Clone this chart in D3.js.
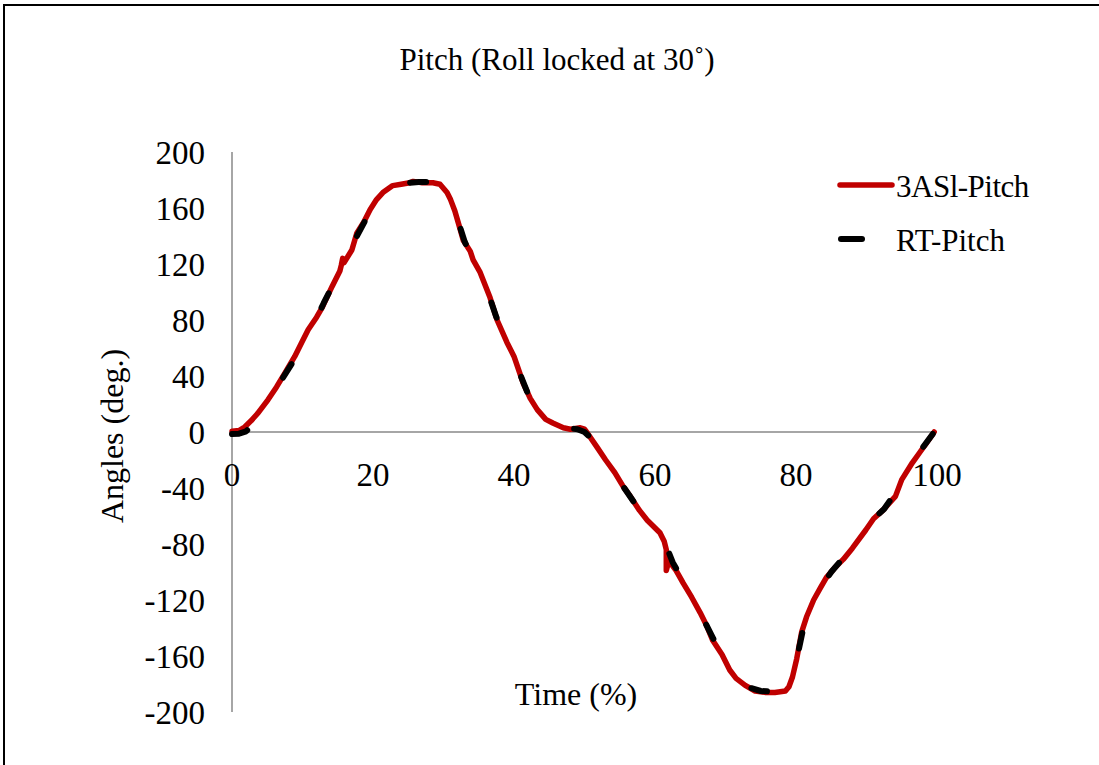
<!DOCTYPE html>
<html><head><meta charset="utf-8">
<script src="https://cdn.jsdelivr.net/npm/d3@7/dist/d3.min.js"></script>
<style>html,body{margin:0;background:#fff;overflow:hidden}svg{display:block}text{font-family:"Liberation Serif","Times New Roman",serif;fill:#000}</style>
</head><body><svg id="c" width="1099" height="765"></svg>
<script>
const title = "Pitch (Roll locked at 30˚)";
const xTitle = "Time (%)";
const yTitle = "Angles (deg.)";
const seriesNames = ["3ASl-Pitch", "RT-Pitch"];
const xTicks = [0, 20, 40, 60, 80, 100];
const yTicks = [200, 160, 120, 80, 40, 0, -40, -80, -120, -160, -200];

const pitch3AS = [[0,0.5],[1,1],[1.8,3.6],[2.7,8],[3.7,13.6],[5.1,23],[6.3,32],[7.5,42],[8.9,54],[9.8,63],[10.8,73],[12,82],[12.8,89],[14.2,104],[15.3,115],[15.5,119],[15.7,124],[15.9,121],[17,130],[17.7,142],[18.7,150],[19.6,159],[20.5,166],[21.4,171],[22.8,176],[24,177],[25.2,178],[25.7,179],[27,178],[28.5,178],[29.5,177],[30.5,171],[31,166],[31.6,158],[32.3,146],[32.8,137],[33.8,129],[34.2,123],[35.2,114],[36.6,96],[37.6,80],[39,64],[40,54],[41.3,35],[42.3,24],[43.3,16],[44.5,9],[45.5,6.4],[47,3],[48,2],[49.4,3],[50,2],[50.4,-0.7],[51.8,-11],[53,-20],[54.3,-29],[55.5,-39],[56.5,-46],[57.8,-56],[58.9,-63],[60.7,-72],[61.3,-78],[61.6,-84],[61.6,-99],[61.8,-95],[62.1,-93],[63,-99],[64,-108],[65.2,-118],[66.4,-129],[67.3,-138],[68.2,-149],[69.5,-159],[70.6,-170],[71.5,-176],[72.8,-181],[74.2,-185],[75.6,-186],[77,-186],[78.5,-185],[79,-182],[79.5,-175],[80.1,-162],[80.8,-143],[81.5,-132],[82.5,-120],[83.5,-111],[84.3,-104],[85.5,-97],[86.7,-91],[88,-83],[89.9,-70],[91,-62],[92.3,-56],[94.1,-46],[95,-34],[96.5,-22],[97.5,-15],[98.5,-8],[99.6,0]];
const pitchRT = [[0,-1.5],[1,-1.2],[2,0.5],[3,5],[4,12],[5.5,25],[7,37],[8.5,49],[10,63],[11.5,76],[13,92],[14.5,107],[16,120],[17.5,138],[19,152],[20.5,165],[22,173],[23.5,177],[25,178],[26.5,178.5],[28,178.5],[29.3,178],[30.5,170],[31.8,155],[33,136],[34.5,120],[36,104],[37.5,82],[39,64],[40.5,46],[42,27],[43.5,15],[45,7],[47,3],[49,2],[50,0],[51.3,-6],[52.5,-15],[54,-27],[55.5,-39],[57,-50],[58.5,-60],[60,-69],[61.5,-80],[62.5,-93],[64,-106],[65.5,-120],[67,-135],[68.5,-150],[70,-163],[71.5,-176],[73,-182],[75,-185],[77,-185.5],[78.8,-184.5],[79.5,-175],[80.2,-160],[81,-141],[82,-125],[83.5,-111],[85,-100],[86.5,-91],[88,-82],[89.5,-72],[91,-62],[92.5,-55],[94,-44],[95.2,-33],[96.5,-22],[98,-11],[99.6,0]];

const svg = d3.select("#c");
svg.append("rect").attr("x",4).attr("y",5).attr("width",1300).attr("height",900)
  .attr("fill","#fff").attr("stroke","#000").attr("stroke-width",2);

const x = d3.scaleLinear().domain([0,100]).range([232,937]);
const y = d3.scaleLinear().domain([-200,200]).range([712,152]);

svg.append("text").attr("x",557).attr("y",70).attr("text-anchor","middle")
  .style("font-size","31px").text(title);

// axes
svg.append("line").attr("x1",x(0)).attr("x2",x(0)).attr("y1",y(200)).attr("y2",y(-200))
  .attr("stroke","#898989").attr("stroke-width",1.5);
svg.append("line").attr("x1",x(0)).attr("x2",x(100)).attr("y1",y(0)).attr("y2",y(0))
  .attr("stroke","#898989").attr("stroke-width",1.5);

svg.selectAll(".yt").data(yTicks).enter().append("text")
  .attr("x",205).attr("y",d=>y(d)).attr("dy","0.35em").attr("text-anchor","end")
  .style("font-size","33px").text(d=>d);
svg.selectAll(".xt").data(xTicks).enter().append("text")
  .attr("x",d=>x(d)).attr("y",474).attr("dy","0.35em").attr("text-anchor","middle")
  .style("font-size","33px").text(d=>d);

svg.append("text").attr("transform","translate(112,436) rotate(-90)").attr("text-anchor","middle")
  .attr("dy","0.35em").style("font-size","32px").text(yTitle);
svg.append("text").attr("x",576).attr("y",694).attr("dy","0.35em").attr("text-anchor","middle")
  .style("font-size","32px").text(xTitle);

const line = d3.line().x(d=>x(d[0])).y(d=>y(d[1])).curve(d3.curveLinear);
svg.append("path").datum(pitch3AS).attr("d",line).attr("fill","none")
  .attr("stroke","#c00000").attr("stroke-width",5.5).attr("stroke-linejoin","round").attr("stroke-linecap","round");
svg.append("path").datum(pitchRT).attr("d",line).attr("fill","none")
  .attr("stroke","#000").attr("stroke-width",6).attr("stroke-dasharray","16,64")
  .attr("stroke-linejoin","round").attr("stroke-linecap","round");

// legend
svg.append("line").attr("x1",840).attr("x2",892).attr("y1",185).attr("y2",185)
  .attr("stroke","#c00000").attr("stroke-width",5.5).attr("stroke-linecap","round");
svg.append("text").attr("x",896).attr("y",186).attr("dy","0.35em").style("font-size","31px")
  .style("letter-spacing","-0.5px").text(seriesNames[0]);
svg.append("line").attr("x1",841).attr("x2",862).attr("y1",239).attr("y2",239)
  .attr("stroke","#000").attr("stroke-width",6).attr("stroke-linecap","round");
svg.append("text").attr("x",896).attr("y",240).attr("dy","0.35em").style("font-size","31px").text(seriesNames[1]);
</script></body></html>
